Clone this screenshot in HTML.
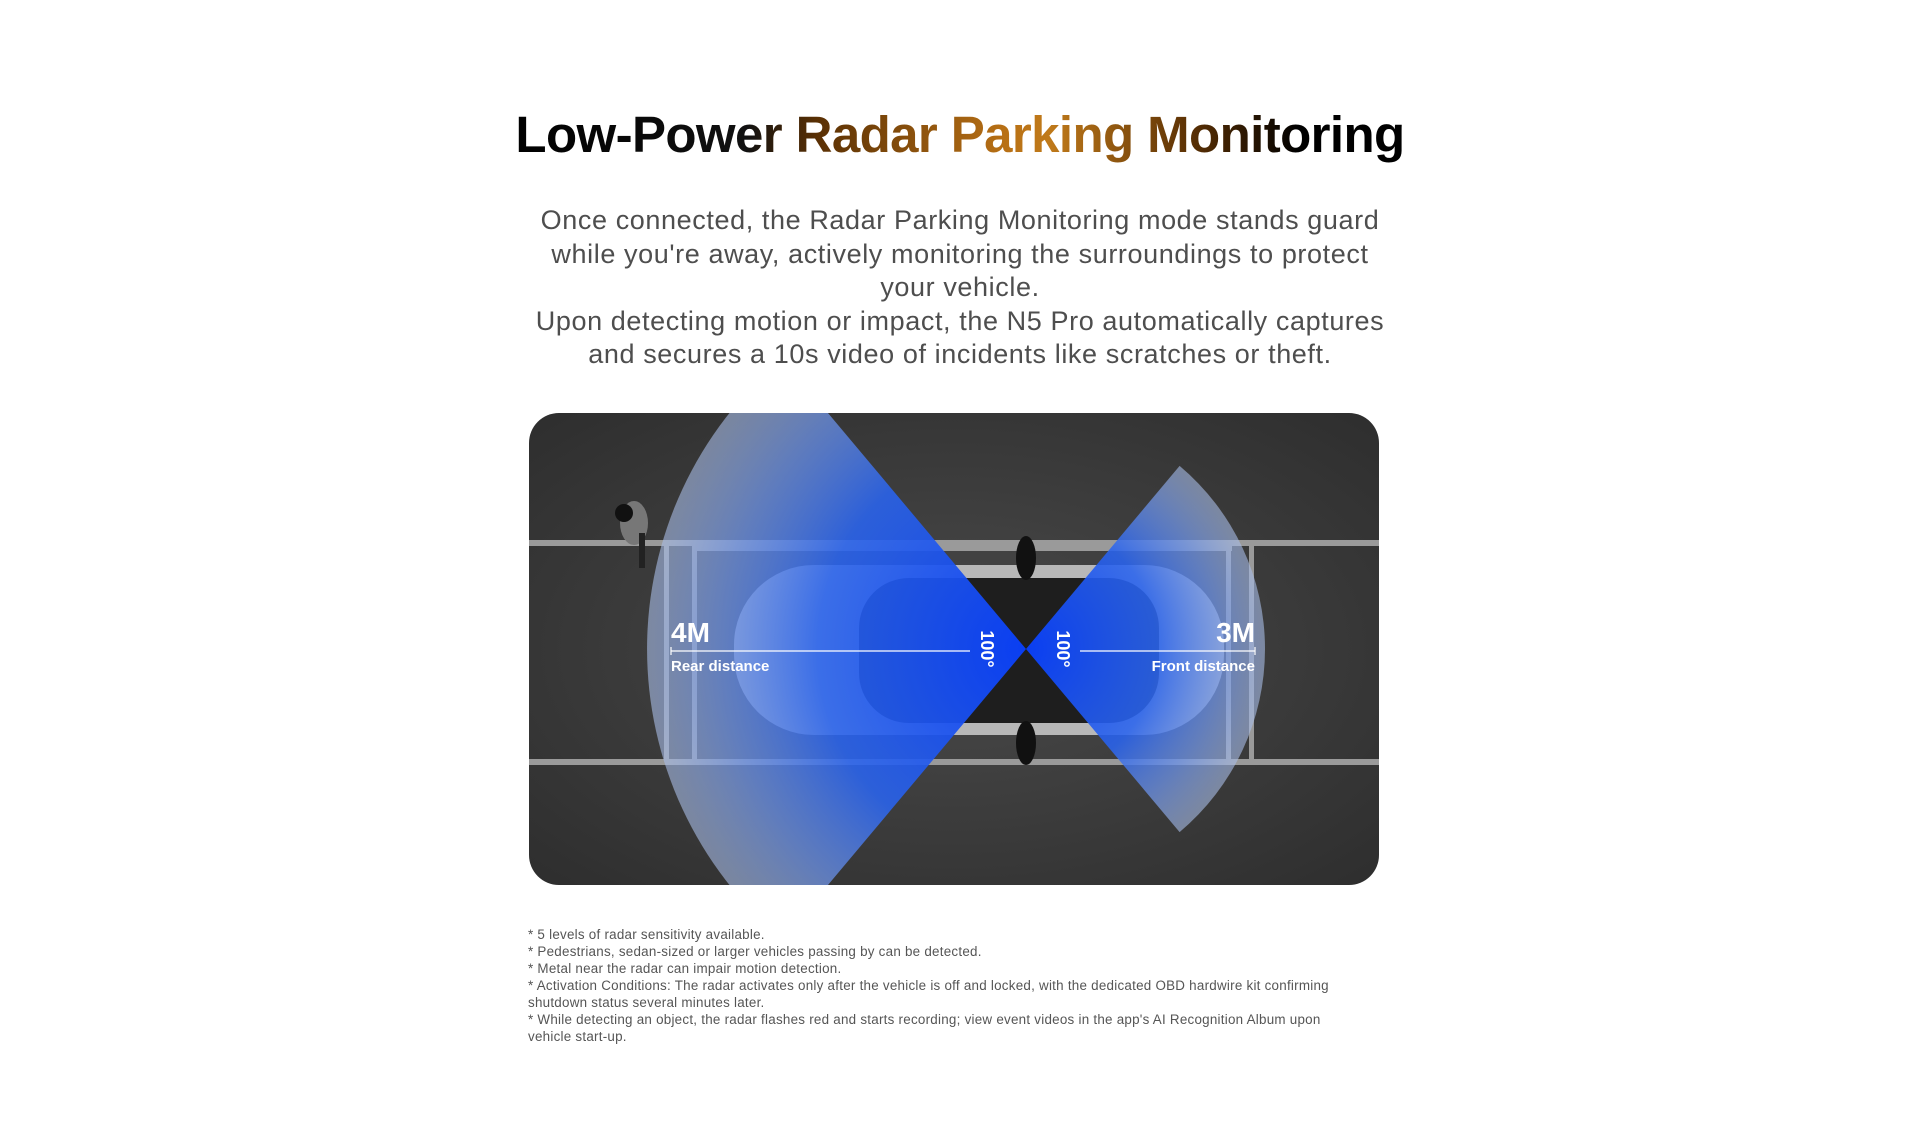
<!DOCTYPE html>
<html><head><meta charset="utf-8"><style>
html,body{margin:0;padding:0;background:#fff;width:1920px;height:1129px;overflow:hidden;position:relative;font-family:"Liberation Sans",sans-serif}
h1{position:absolute;left:0;width:1920px;top:102px;margin:0;text-align:center;font-size:51px;font-weight:bold;letter-spacing:-0.6px;line-height:66px}
h1 span{background:linear-gradient(90deg,#000 0%,#111 26%,#5a3004 34%,#b87015 55%,#c07a1a 60%,#5a3004 76%,#000 88%);-webkit-background-clip:text;background-clip:text;color:transparent}
.p{position:absolute;left:0;width:1920px;top:204px;text-align:center;font-size:27px;line-height:33.6px;color:#4e4e4e;font-weight:300;letter-spacing:0.6px}
.fn{position:absolute;left:528px;top:926px;width:806px;font-size:13.4px;line-height:17px;color:#555;letter-spacing:0.25px}
.panel{position:absolute;left:529px;top:413px;width:850px;height:472px;border-radius:30px;overflow:hidden}
</style></head><body>
<h1><span>Low-Power Radar Parking Monitoring</span></h1>
<div class="p">Once connected, the Radar Parking Monitoring mode stands guard<br>while you're away, actively monitoring the surroundings to protect<br>your vehicle.<br>Upon detecting motion or impact, the N5 Pro automatically captures<br>and secures a 10s video of incidents like scratches or theft.</div>
<div class="panel">
<svg width="850" height="472" viewBox="0 0 850 472">
<defs>
<radialGradient id="bg" cx="0.5" cy="0.5" r="0.7"><stop offset="0" stop-color="#4a4a4a"/><stop offset="1" stop-color="#2e2e2e"/></radialGradient>
<radialGradient id="lc" gradientUnits="userSpaceOnUse" cx="497" cy="236" r="379"><stop offset="0" stop-color="#0a3ef2" stop-opacity="1"/><stop offset="0.55" stop-color="#2a64ee" stop-opacity="0.88"/><stop offset="0.8" stop-color="#6d93e8" stop-opacity="0.75"/><stop offset="1" stop-color="#a9bde6" stop-opacity="0.6"/></radialGradient>
<radialGradient id="rc" gradientUnits="userSpaceOnUse" cx="497" cy="236" r="239"><stop offset="0" stop-color="#0a3ef2" stop-opacity="1"/><stop offset="0.55" stop-color="#2a64ee" stop-opacity="0.88"/><stop offset="0.8" stop-color="#6d93e8" stop-opacity="0.75"/><stop offset="1" stop-color="#a9bde6" stop-opacity="0.6"/></radialGradient>
</defs>
<rect width="850" height="472" fill="url(#bg)"/>
<g fill="#9a9a9a">
<rect x="0" y="127" width="850" height="6"/>
<rect x="0" y="346" width="850" height="6"/>
<rect x="135" y="130" width="5" height="220"/>
<rect x="163" y="133" width="5" height="218"/>
<rect x="163" y="133" width="540" height="5"/>
<rect x="163" y="346" width="540" height="5"/>
<rect x="697" y="133" width="5" height="218"/>
<rect x="720" y="133" width="5" height="218"/>
</g>
<rect x="205" y="152" width="490" height="170" rx="80" fill="#b8b8b8"/>
<rect x="330" y="165" width="300" height="145" rx="50" fill="#1e1e1e"/>
<ellipse cx="497" cy="145" rx="10" ry="22" fill="#111"/>
<ellipse cx="497" cy="330" rx="10" ry="22" fill="#111"/>
<ellipse cx="105" cy="110" rx="14" ry="22" fill="#777"/>
<circle cx="95" cy="100" r="9" fill="#111"/>
<rect x="110" y="120" width="6" height="35" fill="#222"/>
<path d="M497,236 L253.4,-54.3 A379,379 0 0 0 253.4,526.3 Z" fill="url(#lc)"/>
<path d="M497,236 L650.6,52.9 A239,239 0 0 1 650.6,419.1 Z" fill="url(#rc)"/>
<g fill="#fff" font-family="Liberation Sans,sans-serif" font-weight="bold">
<text x="142" y="229" font-size="28">4M</text>
<text x="142" y="258" font-size="15">Rear distance</text>
<text x="726" y="229" font-size="28" text-anchor="end">3M</text>
<text x="726" y="258" font-size="15" text-anchor="end">Front distance</text>
<text transform="translate(452,236) rotate(90)" font-size="18" text-anchor="middle">100°</text>
<text transform="translate(528,236) rotate(90)" font-size="18" text-anchor="middle">100°</text>
</g>
<g stroke="#fff" stroke-width="1.2">
<line x1="142" y1="238" x2="441" y2="238"/>
<line x1="551" y1="238" x2="726" y2="238"/>
<line x1="142" y1="234" x2="142" y2="242"/><line x1="726" y1="234" x2="726" y2="242"/>
</g>
</svg>
</div>
<div class="fn">* 5 levels of radar sensitivity available.<br>* Pedestrians, sedan-sized or larger vehicles passing by can be detected.<br>* Metal near the radar can impair motion detection.<br>* Activation Conditions: The radar activates only after the vehicle is off and locked, with the dedicated OBD hardwire kit confirming shutdown status several minutes later.<br>* While detecting an object, the radar flashes red and starts recording; view event videos in the app's AI Recognition Album upon vehicle start-up.</div>
</body></html>
